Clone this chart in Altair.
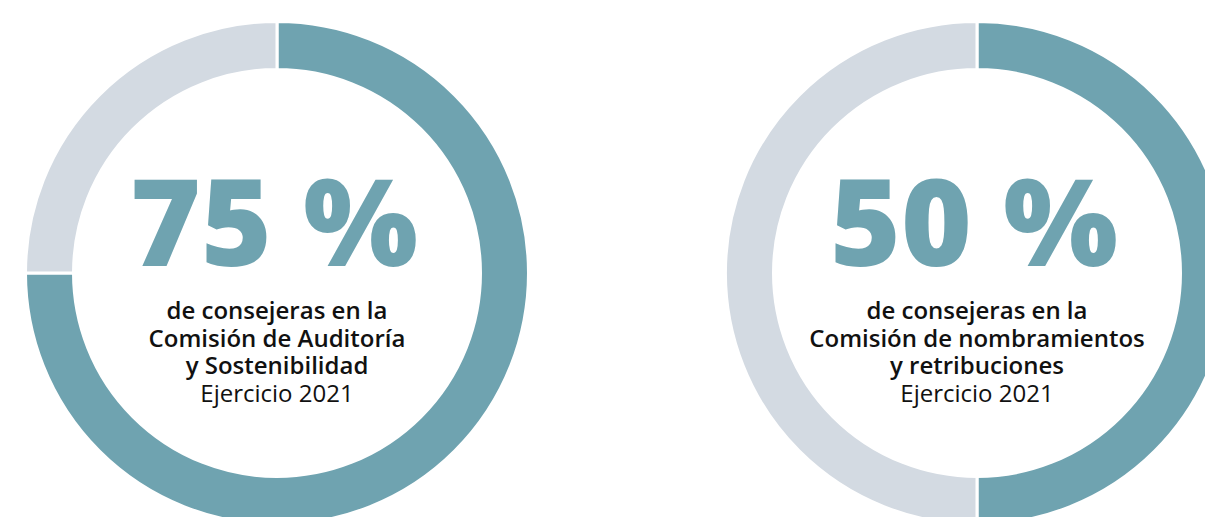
import altair as alt
import pandas as pd

# Data
donuts = ["Auditoría y Sostenibilidad", "Nombramientos y retribuciones"]
pct_women = [75, 50]
pct_labels = ["75 %", "50 %"]
segments = ["Consejeras", "Resto"]
bold_lines = [
    ["de consejeras en la", "Comisión de Auditoría", "y Sostenibilidad"],
    ["de consejeras en la", "Comisión de nombramientos", "y retribuciones"],
]
year_line = ["Ejercicio 2021", "Ejercicio 2021"]

TEAL = "#6FA3B0"
GREY = "#D3DAE2"
FONT = "Open Sans"

centers_x = [269, 969]
center_y = 265
R_OUT = 251.5
R_IN = 203.5

layers = []
for i, name in enumerate(donuts):
    df = pd.DataFrame({
        "segment": segments,
        "value": [pct_women[i], 100 - pct_women[i]],
        "ord": [0, 1],
    })
    cx = centers_x[i]
    arc = alt.Chart(df).mark_arc(
        outerRadius=R_OUT, innerRadius=R_IN, stroke="white", strokeWidth=3
    ).encode(
        theta=alt.Theta("value:Q", stack=True),
        color=alt.Color("segment:N", scale=alt.Scale(domain=segments, range=[TEAL, GREY]), legend=None),
        order=alt.Order("ord:Q"),
        x=alt.value(cx),
        y=alt.value(center_y),
    )
    layers.append(arc)

    big = alt.Chart(pd.DataFrame({"t": [pct_labels[i]]})).mark_text(
        font=FONT, fontSize=121, fontWeight=800, color=TEAL,
        align="center", baseline="alphabetic",
    ).encode(text="t:N", x=alt.value(cx - 3), y=alt.value(258))
    layers.append(big)

    ldf = pd.DataFrame({"t": bold_lines[i], "line": [0, 1, 2]})
    bl = alt.Chart(ldf).mark_text(
        font=FONT, fontSize=24, fontWeight=600, color="#111111",
        align="center", baseline="alphabetic",
    ).encode(
        text="t:N",
        x=alt.value(cx),
        y=alt.Y("line:Q", scale=alt.Scale(domain=[0, 3], range=[311, 394]), axis=None),
    )
    layers.append(bl)

    ydf = pd.DataFrame({"t": [year_line[i]], "line": [3]})
    yl = alt.Chart(ydf).mark_text(
        font=FONT, fontSize=24, fontWeight=400, color="#111111",
        align="center", baseline="alphabetic",
    ).encode(
        text="t:N",
        x=alt.value(cx),
        y=alt.Y("line:Q", scale=alt.Scale(domain=[0, 3], range=[311, 394]), axis=None),
    )
    layers.append(yl)

chart = alt.layer(*layers).resolve_scale(color="independent", y="shared").properties(
    width=1197, height=509, padding=0, autosize="none"
).configure_view(stroke=None)

chart.save("out.html", embed_options={"renderer": "svg", "actions": False})
